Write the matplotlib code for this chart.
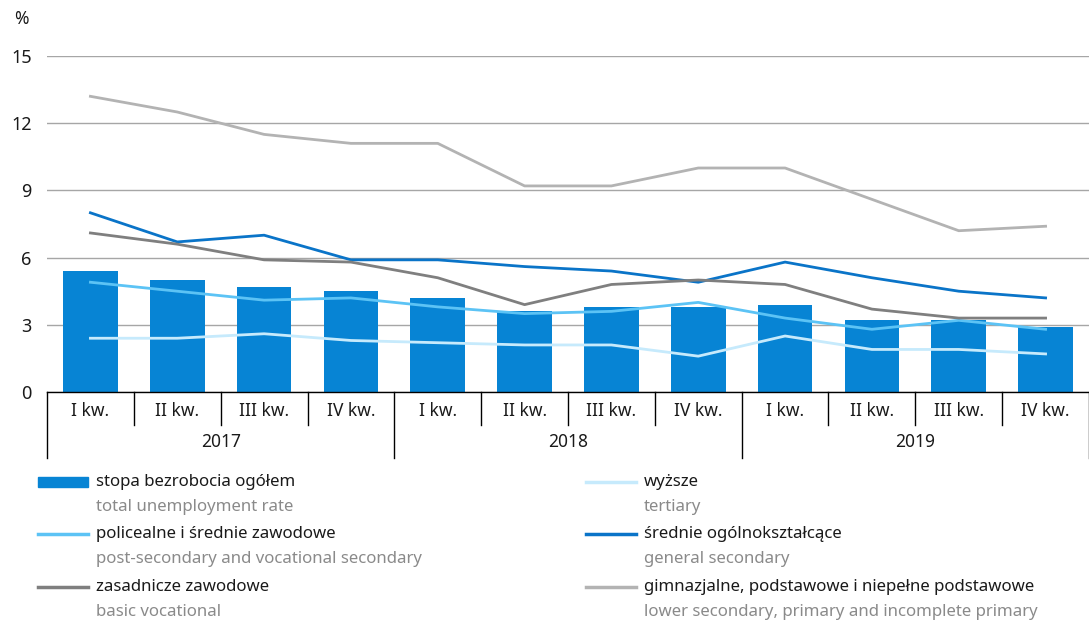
import matplotlib
matplotlib.use("Agg")
from matplotlib import pyplot as plt
from matplotlib.lines import Line2D
from matplotlib.patches import Rectangle
import matplotlib.transforms as mtransforms
import numpy as np

plt.rcParams['font.family'] = ['Noto Sans', 'DejaVu Sans']

quarters = ["I kw.", "II kw.", "III kw.", "IV kw."] * 3
years = ["2017", "2018", "2019"]

total = [5.4, 5.0, 4.7, 4.5, 4.2, 3.6, 3.8, 3.8, 3.9, 3.2, 3.2, 2.9]
tertiary = [2.4, 2.4, 2.6, 2.3, 2.2, 2.1, 2.1, 1.6, 2.5, 1.9, 1.9, 1.7]
postsec_voc = [4.9, 4.5, 4.1, 4.2, 3.8, 3.5, 3.6, 4.0, 3.3, 2.8, 3.2, 2.8]
general_sec = [8.0, 6.7, 7.0, 5.9, 5.9, 5.6, 5.4, 4.9, 5.8, 5.1, 4.5, 4.2]
basic_voc = [7.1, 6.6, 5.9, 5.8, 5.1, 3.9, 4.8, 5.0, 4.8, 3.7, 3.3, 3.3]
lower_sec = [13.2, 12.5, 11.5, 11.1, 11.1, 9.2, 9.2, 10.0, 10.0, 8.6, 7.2, 7.4]

c_bar = "#0784d4"
c_tert = "#c6eafc"
c_post = "#5cc3f5"
c_gen = "#0a74c8"
c_basic = "#7f7f7f"
c_lower = "#b3b3b3"
c_txt = "#1a1a1a"
c_sub = "#8a8a8a"

fig = plt.figure(figsize=(10.89, 6.24), dpi=100)
ax = fig.add_axes([47 / 1089, 1 - 392 / 624, 1 - 47 / 1089, 336 / 624])

x = np.arange(len(total))
ax.bar(x, total, width=0.63, color=c_bar, zorder=2)
ax.plot(x, tertiary, color=c_tert, lw=2, zorder=3)
ax.plot(x, postsec_voc, color=c_post, lw=2, zorder=3)
ax.plot(x, general_sec, color=c_gen, lw=2, zorder=3)
ax.plot(x, basic_voc, color=c_basic, lw=2, zorder=3)
ax.plot(x, lower_sec, color=c_lower, lw=2, zorder=3)

ax.set_xlim(-0.5, len(total) - 0.5)
ax.set_ylim(0, 15)
ax.set_yticks([0, 3, 6, 9, 12, 15])
ax.yaxis.grid(True, color="#a6a6a6", lw=1)
ax.set_axisbelow(True)
for s in ["top", "right", "left"]:
    ax.spines[s].set_visible(False)
ax.spines["bottom"].set_color("black")
ax.spines["bottom"].set_linewidth(1)
ax.tick_params(axis="y", length=0, pad=11, labelsize=13, labelcolor=c_txt)
ax.tick_params(axis="x", length=0, labelbottom=False)
ax.text(-0.032, 1.11, "%", transform=ax.transAxes, fontsize=12.5, color=c_txt, ha="left", va="center")

# category axis
tr = mtransforms.blended_transform_factory(ax.transData, ax.transAxes)
for i, q in enumerate(quarters):
    ax.text(i, -0.058, q, transform=tr, ha="center", va="center", fontsize=12.5, color=c_txt)
for b in range(len(total) + 1):
    low = -0.196 if b % 4 == 0 else -0.098
    ax.add_line(Line2D([b - 0.5, b - 0.5], [0, low], transform=tr, color="black", lw=1, clip_on=False))
for k, yr in enumerate(years):
    ax.text(k * 4 + 1.5, -0.148, yr, transform=tr, ha="center", va="center", fontsize=12.5, color=c_txt)

# legend
W, H = 1089, 624
def fx(px):
    return px / W
def fy(py):
    return 1 - py / H

items = [
    ("bar", c_bar, "stopa bezrobocia ogółem", "total unemployment rate", 38, 482),
    ("line", c_post, "policealne i średnie zawodowe", "post-secondary and vocational secondary", 38, 534),
    ("line", c_basic, "zasadnicze zawodowe", "basic vocational", 38, 587),
    ("line", c_tert, "wyższe", "tertiary", 586, 482),
    ("line", c_gen, "średnie ogólnokształcące", "general secondary", 586, 534),
    ("line", c_lower, "gimnazjalne, podstawowe i niepełne podstawowe", "lower secondary, primary and incomplete primary", 586, 587),
]
for kind, col, pl, en, x0, y0 in items:
    if kind == "bar":
        fig.add_artist(Rectangle((fx(x0), fy(y0 + 5)), fx(50), 10 / H, color=col, transform=fig.transFigure))
    else:
        fig.add_artist(Line2D([fx(x0), fx(x0 + 50)], [fy(y0), fy(y0)], color=col, lw=2.5, transform=fig.transFigure))
    fig.text(fx(x0 + 58), fy(y0), pl, fontsize=12.1, color=c_txt, ha="left", va="center")
    fig.text(fx(x0 + 58), fy(y0 + 25), en, fontsize=12.1, color=c_sub, ha="left", va="center")

fig.savefig("out.png", dpi=100)
